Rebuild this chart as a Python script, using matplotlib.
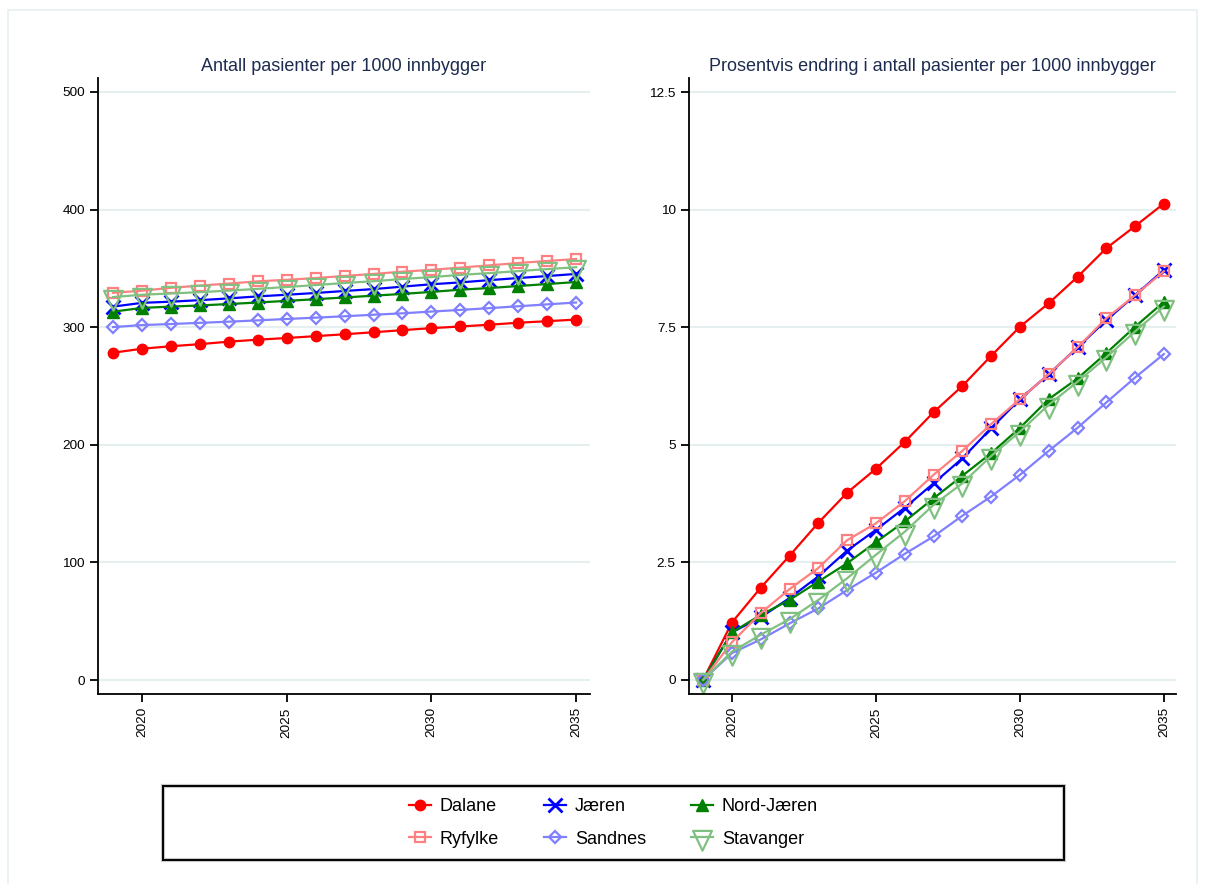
import matplotlib
matplotlib.use("Agg")
import matplotlib.pyplot as plt
from matplotlib.patches import Rectangle
from matplotlib.lines import Line2D
from matplotlib.path import Path

plt.rcParams['font.family'] = ['Liberation Sans', 'DejaVu Sans']

years = list(range(2019, 2036))
regions = ["Dalane", "Jæren", "Nord-Jæren", "Ryfylke", "Sandnes", "Stavanger"]

# Patients per 1000 inhabitants
dalane_n = [278.3, 281.7, 283.8, 285.6, 287.7, 289.4, 290.8, 292.4, 294.0,
            295.7, 297.5, 299.2, 300.6, 302.1, 303.8, 305.1, 306.5]
jaeren_n = [317.5, 320.7, 321.7, 323.0, 324.5, 326.2, 327.6, 329.1, 330.8,
            332.4, 334.5, 336.5, 338.1, 340.0, 341.8, 343.5, 345.3]
nordjaeren_n = [313.2, 316.4, 317.5, 318.5, 319.7, 321.0, 322.4, 323.8, 325.3,
                326.8, 328.3, 330.0, 331.9, 333.3, 335.0, 336.7, 338.4]
ryfylke_n = [329.3, 331.0, 333.5, 335.4, 337.1, 339.0, 340.3, 341.8, 343.6,
             345.3, 347.2, 348.8, 350.7, 352.6, 354.6, 356.3, 358.0]
sandnes_n = [300.1, 301.8, 302.7, 303.7, 304.7, 305.8, 307.0, 308.1, 309.3,
             310.6, 311.8, 313.3, 314.7, 316.2, 317.8, 319.4, 321.0]
stavanger_n = [325.6, 327.6, 328.7, 329.8, 331.1, 332.6, 334.2, 335.8, 337.6,
               339.1, 341.0, 342.6, 344.5, 346.0, 347.7, 349.4, 351.0]

# Percent change since 2019
dalane_p = [0, 1.22, 1.96, 2.64, 3.34, 3.98, 4.49, 5.06, 5.69, 6.25, 6.89,
            7.51, 8.01, 8.57, 9.18, 9.65, 10.13]
jaeren_p = [0, 1.01, 1.33, 1.74, 2.20, 2.75, 3.19, 3.66, 4.18, 4.71, 5.35,
            5.97, 6.50, 7.07, 7.65, 8.18, 8.72]
nordjaeren_p = [0, 1.01, 1.38, 1.70, 2.09, 2.48, 2.93, 3.37, 3.86, 4.34, 4.82,
                5.36, 5.97, 6.41, 6.95, 7.51, 8.04]
ryfylke_p = [0, 0.80, 1.42, 1.93, 2.38, 2.97, 3.33, 3.80, 4.36, 4.87, 5.44,
             5.97, 6.50, 7.07, 7.69, 8.18, 8.69]
sandnes_p = [0, 0.57, 0.86, 1.20, 1.52, 1.91, 2.28, 2.68, 3.05, 3.49, 3.90,
             4.36, 4.87, 5.36, 5.90, 6.43, 6.93]
stavanger_p = [0, 0.60, 0.96, 1.29, 1.70, 2.16, 2.66, 3.15, 3.72, 4.18, 4.76,
               5.28, 5.85, 6.34, 6.86, 7.41, 7.94]

left_series = [dalane_n, jaeren_n, nordjaeren_n, ryfylke_n, sandnes_n, stavanger_n]
right_series = [dalane_p, jaeren_p, nordjaeren_p, ryfylke_p, sandnes_p, stavanger_p]

left_title = "Antall pasienter per 1000 innbygger"
right_title = "Prosentvis endring i antall pasienter per 1000 innbygger"
left_yticks = [0, 100, 200, 300, 400, 500]
right_yticks = [0, 2.5, 5, 7.5, 10, 12.5]
right_ylabels = ["0", "2.5", "5", "7.5", "10", "12.5"]
xticks = [2020, 2025, 2030, 2035]

# Downward triangle centred on its centroid
tri_down = Path([(-9.5, 6.67), (9.5, 6.67), (0, -13.33), (-9.5, 6.67)],
                [Path.MOVETO, Path.LINETO, Path.LINETO, Path.CLOSEPOLY])

styles = {
    "Dalane":     dict(color="#ff0000", marker="o", ms=7.5, mfc="#ff0000", mew=1.0),
    "Jæren":      dict(color="#0000ff", marker="x", ms=10, mfc="none", mew=2.0),
    "Nord-Jæren": dict(color="#008000", marker="^", ms=8.5, mfc="#008000", mew=1.0),
    "Ryfylke":    dict(color="#ff8080", marker="s", ms=7, mfc="none", mew=1.6),
    "Sandnes":    dict(color="#8080ff", marker="D", ms=6, mfc="none", mew=1.6),
    "Stavanger":  dict(color="#80c080", marker=tri_down, ms=19, mfc="none", mew=1.6),
}

W, H = 1205, 884
fig = plt.figure(figsize=(W / 100, H / 100), dpi=100)
fig.patch.set_facecolor("white")

# faint outer frame
fig.add_artist(Rectangle((8 / W, -0.01), (1197 - 8) / W, (H - 10) / H + 0.01,
                         transform=fig.transFigure, fill=False,
                         edgecolor="#e8f0f1", lw=1.2))

title_color = "#1c2b4f"
grid_color = "#e6eff0"


def style_axes(ax, yticks, ylabels, ylim, xlim, title):
    ax.set_xlim(*xlim)
    ax.set_ylim(*ylim)
    ax.set_yticks(yticks)
    ax.set_yticklabels(ylabels)
    ax.set_xticks(xticks)
    ax.set_xticklabels([str(t) for t in xticks], rotation=90)
    for s in ("top", "right"):
        ax.spines[s].set_visible(False)
    for s in ("left", "bottom"):
        ax.spines[s].set_linewidth(1.3)
        ax.spines[s].set_color("black")
    ax.tick_params(axis="both", direction="out", length=6, width=1.3,
                   labelsize=9.7, pad=3.5, colors="black")
    ax.grid(axis="y", color=grid_color, lw=1.5)
    ax.set_axisbelow(True)
    ax.set_title(title, fontsize=13, color=title_color, pad=5)


ax1 = fig.add_axes([98 / W, (H - 694) / H, 492 / W, 616 / H])
ax2 = fig.add_axes([689 / W, (H - 694) / H, 487 / W, 616 / H])

for name, vals in zip(regions, left_series):
    ax1.plot(years, vals, lw=1.6, label=name, **styles[name])
for name, vals in zip(regions, right_series):
    ax2.plot(years, vals, lw=1.6, label=name, **styles[name])

style_axes(ax1, left_yticks, [str(t) for t in left_yticks], (-11.9, 511.9),
           (2018.48, 2035.48), left_title)
style_axes(ax2, right_yticks, right_ylabels, (-0.30, 12.80),
           (2018.51, 2035.42), right_title)

# legend box
bx0, by0, bx1, by1 = 163, 786, 1064, 860
fig.add_artist(Rectangle((bx0 / W, (H - by1) / H), (bx1 - bx0) / W, (by1 - by0) / H,
                         transform=fig.transFigure, fill=True, facecolor="white",
                         edgecolor="#c8c8c8", lw=3.0))
fig.add_artist(Rectangle((bx0 / W, (H - by1) / H), (bx1 - bx0) / W, (by1 - by0) / H,
                         transform=fig.transFigure, fill=False,
                         edgecolor="black", lw=1.4))

order = ["Dalane", "Ryfylke", "Jæren", "Sandnes", "Nord-Jæren", "Stavanger"]
handles = [Line2D([], [], lw=1.6, **styles[n]) for n in order]
fig.legend(handles, order, loc="center",
           bbox_to_anchor=((bx0 + bx1) / 2 / W, (H - (by0 + by1) / 2) / H),
           ncol=3, frameon=False, fontsize=13, handlelength=1.2,
           handletextpad=0.5, columnspacing=2.5, labelspacing=0.85,
           borderpad=0.2)

fig.savefig("out.png", dpi=100, facecolor="white")
